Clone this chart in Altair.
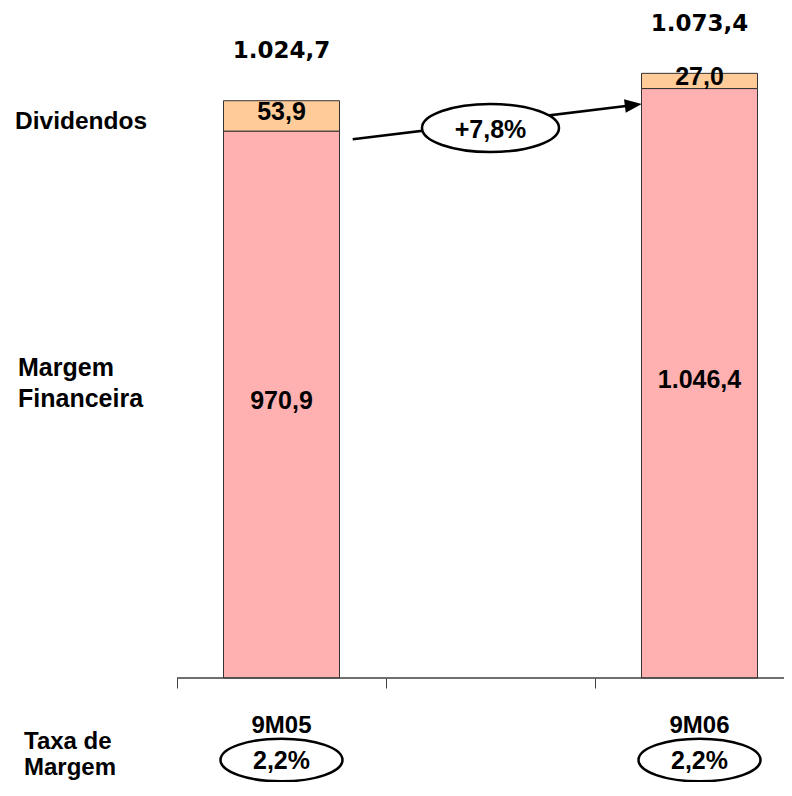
import altair as alt
import pandas as pd

# ---------------- data ----------------
categories = ["9M05", "var", "9M06"]          # middle band is the gap holding the growth tag
periods = ["9M05", "9M06"]
series = ["Margem Financeira", "Dividendos"]
margem = [970.9, 1046.4]
dividendos = [53.9, 27.0]
totais = [1024.7, 1073.4]
taxa_margem = [2.2, 2.2]
crescimento = [7.8]
colors = ["#FFB0B0", "#FFCC99"]


def pt(v, d=1):
    s = f"{v:,.{d}f}"
    return s.replace(",", "X").replace(".", ",").replace("X", ".")


rows = []
for i, p in enumerate(periods):
    rows.append({"periodo": p, "serie": series[0], "ordem": 0, "valor": margem[i], "rotulo": pt(margem[i])})
    rows.append({"periodo": p, "serie": series[1], "ordem": 1, "valor": dividendos[i], "rotulo": pt(dividendos[i])})
seg = pd.DataFrame(rows)
tot = pd.DataFrame({"periodo": periods, "total": totais, "rotulo": [pt(v) for v in totais]})
taxa = pd.DataFrame({"periodo": periods, "rotulo": [pt(v) + "%" for v in taxa_margem]})
growth = pd.DataFrame({"periodo": ["var"], "rotulo": ["+" + pt(v) + "%" for v in crescimento]})
cats = pd.DataFrame({"periodo": periods})
side = pd.DataFrame({"t": ["Dividendos", "Margem\nFinanceira", "Taxa de\nMargem"]})

NARROW = "Liberation Sans"
BOLD = "DejaVu Sans"
PLOT_W = 607

xenc = alt.X(
    "periodo:N",
    scale=alt.Scale(domain=categories, range=[0, 627], paddingInner=0, paddingOuter=0),
    axis=alt.Axis(
        title=None,
        values=categories,
        bandPosition=0,
        labels=False,
        domain=False,
        ticks=True,
        tickSize=10,
        tickColor="#404040",
        tickWidth=1,
        grid=False,
    ),
)
yscale = alt.Scale(domain=[0, 1189.4], nice=False, zero=True)

base = alt.Chart(seg).transform_stack(
    stack="valor", groupby=["periodo"], as_=["v0", "v1"],
    sort=[alt.SortField("ordem", order="ascending")]
).transform_calculate(mid="(datum.v0 + datum.v1) / 2")

bars = base.mark_bar(size=116, stroke="#333333", strokeWidth=1).encode(
    x=xenc,
    y=alt.Y("v1:Q", scale=yscale, axis=None),
    y2="v0:Q",
    color=alt.Color("serie:N", scale=alt.Scale(domain=series, range=colors), legend=None),
)

# axis baseline, kept inside the visible page
baseline = alt.Chart(cats).mark_rule(color="#404040", strokeWidth=1).encode(
    x=alt.value(0), x2=alt.value(PLOT_W), y=alt.Y(datum=0, scale=yscale))

cat_labels = alt.Chart(cats).mark_text(font=NARROW, fontSize=24, fontWeight="bold",
                                       baseline="alphabetic", color="black").encode(
    x=xenc, y=alt.value(724.5), text="periodo:N")

seg_labels = base.mark_text(font=NARROW, fontSize=25, fontWeight="bold", baseline="alphabetic",
                            dy=4.5, color="black").encode(
    x=xenc, y=alt.Y("mid:Q", scale=yscale), text="rotulo:N")

tot_labels = alt.Chart(tot).mark_text(font=BOLD, fontSize=23, fontWeight="bold", baseline="alphabetic",
                                      dy=-42.5, color="black").encode(
    x=xenc, y=alt.Y("total:Q", scale=yscale), text="rotulo:N")

ELL_TAXA = "M-1,0A1,0.35 0 1,0 1,0A1,0.35 0 1,0 -1,0Z"
ELL_GROW = "M-1,0A1,0.35 0 1,0 1,0A1,0.35 0 1,0 -1,0Z"

taxa_ell = alt.Chart(taxa).mark_point(shape=ELL_TAXA, size=122 * 122, filled=True, fill="white",
                                      stroke="black", strokeWidth=2.5, opacity=1).encode(
    x=xenc, y=alt.value(752))
taxa_txt = alt.Chart(taxa).mark_text(font=NARROW, fontSize=25, fontWeight="bold", baseline="alphabetic",
                                     color="black").encode(
    x=xenc, y=alt.value(761), text="rotulo:N")

arrow_line = alt.Chart(growth).mark_rule(color="black", strokeWidth=2.5).encode(
    x=alt.value(175.7), x2=alt.value(449), y=alt.value(131.3), y2=alt.value(98.0))
arrow_head = alt.Chart(growth).mark_point(shape="M-1,-0.8L1,0L-1,0.8Z", size=289, filled=True,
                                          color="black", opacity=1, angle=353).encode(
    x=alt.value(456.3), y=alt.value(97.0))
grow_ell = alt.Chart(growth).mark_point(shape=ELL_GROW, size=137 * 137, filled=True, fill="white",
                                        stroke="black", strokeWidth=2.5, opacity=1).encode(
    x=xenc, y=alt.value(120))
grow_txt = alt.Chart(growth).mark_text(font=NARROW, fontSize=25, fontWeight="bold", baseline="alphabetic",
                                       color="black").encode(
    x=xenc, y=alt.value(129.7), text="rotulo:N")

side_div = alt.Chart(side).transform_filter("datum.t == 'Dividendos'").mark_text(
    font=NARROW, fontSize=24.5, fontWeight="bold", align="left", baseline="alphabetic", color="black").encode(
    x=alt.value(-162), y=alt.value(121.3), text="t:N")
side_mf = alt.Chart(side).transform_filter("indexof(datum.t, 'Financeira') >= 0").mark_text(
    font=NARROW, fontSize=25, fontWeight="bold", align="left", baseline="alphabetic", color="black",
    lineBreak="\n", lineHeight=31).encode(
    x=alt.value(-159), y=alt.value(367.7), text="t:N")
side_tx = alt.Chart(side).transform_filter("indexof(datum.t, 'Taxa') >= 0").mark_text(
    font=NARROW, fontSize=24, fontWeight="bold", align="left", baseline="alphabetic", color="black",
    lineBreak="\n", lineHeight=26).encode(
    x=alt.value(-153), y=alt.value(741), text="t:N")

chart = alt.layer(
    bars, baseline, cat_labels, seg_labels, tot_labels, arrow_line, arrow_head, grow_ell, grow_txt,
    taxa_ell, taxa_txt, side_div, side_mf, side_tx
).properties(
    width=PLOT_W, height=670,
    padding={"left": 169, "top": 0, "right": 0, "bottom": 104},
    autosize=alt.AutoSizeParams(type="none"),
).configure_view(stroke=None)

chart.save("out.html", embed_options={"renderer": "svg", "actions": False})
